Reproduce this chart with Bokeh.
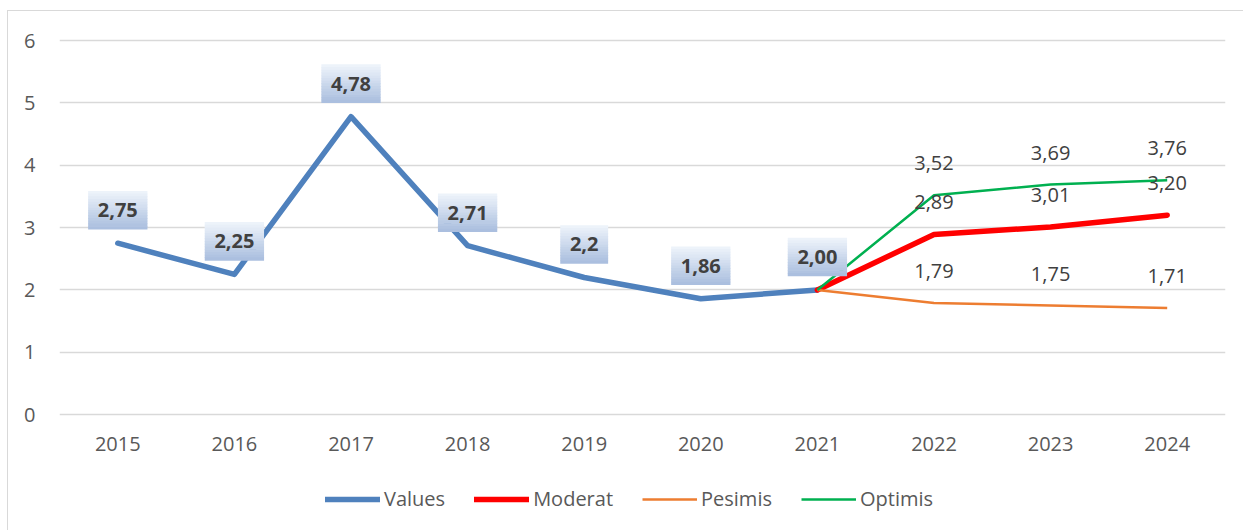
from bokeh.plotting import figure
from bokeh.models import (FactorRange, Range1d, FixedTicker, Legend, LegendItem)
from bokeh.core.properties import value
from bokeh.embed import file_html
from bokeh.resources import INLINE

# ---- data ----
years = ["2015", "2016", "2017", "2018", "2019", "2020", "2021", "2022", "2023", "2024"]
hist_years = ["2015", "2016", "2017", "2018", "2019", "2020", "2021"]
hist_values = [2.75, 2.25, 4.78, 2.71, 2.2, 1.86, 2.00]
hist_labels = ["2,75", "2,25", "4,78", "2,71", "2,2", "1,86", "2,00"]

fc_years = ["2021", "2022", "2023", "2024"]
moderat = [2.00, 2.89, 3.01, 3.20]
pesimis = [2.00, 1.79, 1.75, 1.71]
optimis = [2.00, 3.52, 3.69, 3.76]
moderat_labels = ["", "2,89", "3,01", "3,20"]
pesimis_labels = ["", "1,79", "1,75", "1,71"]
optimis_labels = ["", "3,52", "3,69", "3,76"]

y_ticks = [0, 1, 2, 3, 4, 5, 6]

# ---- styling ----
FONT = "Open Sans"
C_VALUES = "#4f81bd"
C_MOD = "#ff0000"
C_PES = "#ed7d31"
C_OPT = "#00b050"
GRID = "#d9d9d9"

PPU = 374 / 6.0                      # pixels per data unit
FRAME_H = 493                        # frame reaches the bottom of the page
Y_MAX = 6.05
Y_MIN = Y_MAX - FRAME_H / PPU

p = figure(x_range=FactorRange(*years), y_range=Range1d(Y_MIN, Y_MAX),
           width=1235, height=519,
           frame_width=1166, frame_height=FRAME_H,
           min_border_left=51, min_border_top=26, min_border_right=18,
           min_border_bottom=0,
           output_backend="svg", toolbar_location=None,
           background_fill_color="white", border_fill_color="white")
p.styles = {"margin-left": "7px", "margin-top": "10px",
            "border-left": "1px solid #d9d9d9", "border-top": "1px solid #d9d9d9"}
p.outline_line_color = None
p.xgrid.grid_line_color = None
p.ygrid.grid_line_color = GRID
p.ygrid.grid_line_width = 1.3
p.ygrid.ticker = FixedTicker(ticks=y_ticks)

p.yaxis.ticker = FixedTicker(ticks=y_ticks)
ax = p.yaxis[0]
ax.axis_line_color = None
ax.major_tick_line_color = None
ax.minor_tick_line_color = None
ax.major_tick_out = 0
ax.major_tick_in = 0
ax.major_label_text_font = FONT
ax.major_label_text_font_size = "20px"
ax.major_label_text_color = "#595959"
p.yaxis.major_label_standoff = 24
p.xaxis.visible = False

# category labels under the zero line
p.text(x=years, y=[0] * len(years), text=years, text_font=value(FONT),
       text_font_size="20px", text_color="#595959", text_align="center",
       text_baseline="middle", y_offset=29)

# ---- lines ----
r_val = p.line(hist_years, hist_values, line_color=C_VALUES, line_width=5.5,
               line_join="round", line_cap="round")
r_mod = p.line(fc_years, moderat, line_color=C_MOD, line_width=5.5,
               line_join="round", line_cap="round")
r_pes = p.line(fc_years, pesimis, line_color=C_PES, line_width=2.5,
               line_join="round")
r_opt = p.line(fc_years, optimis, line_color=C_OPT, line_width=2.5,
               line_join="round")

# ---- forecast labels (plain) ----
for vals, labs in ((moderat, moderat_labels), (pesimis, pesimis_labels),
                   (optimis, optimis_labels)):
    p.text(x=fc_years, y=vals, text=labs, text_font=value(FONT),
           text_font_size="20px", text_color="#404040", text_align="center",
           text_baseline="middle", y_offset=-32)

# ---- boxed labels for historical values (vertical gradient) ----
def label_width(s):
    w = 19.0
    for ch in s:
        w += 6.0 if ch == "," else 11.44
    return w

box_w = [label_width(s) for s in hist_labels]
BOX_BOTTOM = 14.0   # px above point
BOX_H = 38.0
N = 14
top_rgb = (240, 245, 251)
bot_rgb = (168, 189, 222)
strip = BOX_H / N
for k in range(N):
    t = (k + 0.5) / N
    col = tuple(int(round(top_rgb[i] + (bot_rgb[i] - top_rgb[i]) * t)) for i in range(3))
    hexcol = "#%02x%02x%02x" % col
    off = BOX_BOTTOM + BOX_H - (k + 0.5) * strip
    ys = [v + off / PPU for v in hist_values]
    p.rect(x=hist_years, y=ys, width=box_w, height=strip + 0.6,
           width_units="screen", height_units="screen",
           fill_color=hexcol, line_color=None)

p.text(x=hist_years, y=hist_values, text=hist_labels, text_font=value(FONT),
       text_font_size="20px", text_font_style="bold", text_color="#404040",
       text_align="center", text_baseline="middle", y_offset=-33)

# ---- legend ----
legend = Legend(items=[LegendItem(label="Values", renderers=[r_val]),
                       LegendItem(label="Moderat", renderers=[r_mod]),
                       LegendItem(label="Pesimis", renderers=[r_pes]),
                       LegendItem(label="Optimis", renderers=[r_opt])],
                location=(266, 18), orientation="horizontal",
                glyph_width=55, label_standoff=4, spacing=29, padding=0,
                margin=0, border_line_color=None, background_fill_alpha=0,
                label_text_font=FONT, label_text_font_size="20px",
                label_text_color="#595959")
p.add_layout(legend, "center")

open("out.html", "w").write(file_html(p, INLINE))
